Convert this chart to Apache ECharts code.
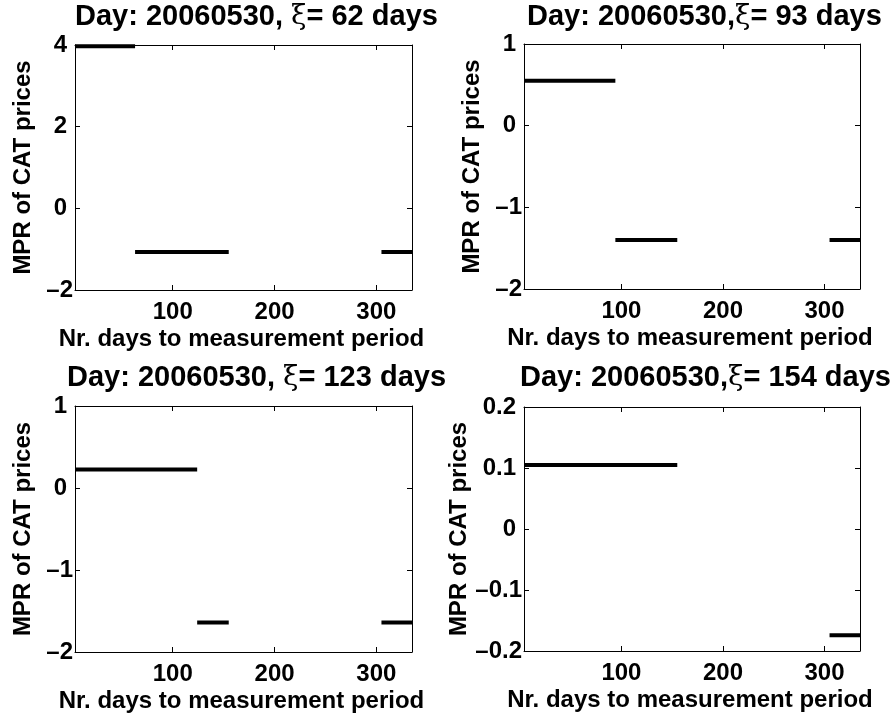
<!DOCTYPE html>
<html>
<head>
<meta charset="utf-8">
<script src="https://cdn.jsdelivr.net/npm/echarts@6/dist/echarts.min.js"></script>
<style>
  html, body { margin: 0; padding: 0; background: #fff; overflow: hidden; }
  #main { width: 895px; height: 722px; }
</style>
</head>
<body>
<div id="main"></div>
<script>
// 每个测量期（按月）的起止天数
const dayStart = [4, 33, 63, 94, 124, 305];
const dayEnd = [33, 63, 94, 124, 155, 335];
const xTicks = [100, 200, 300];

// 四个子图的 MPR 值（每段一个值）
const xiDays = [62, 93, 123, 154];
const mpr62 = [3.97, 3.97, -1.07, -1.07, -1.07, -1.07];
const mpr93 = [0.55, 0.55, 0.55, -1.40, -1.40, -1.40];
const mpr123 = [0.225, 0.225, 0.225, 0.225, -1.64, -1.64];
const mpr154 = [0.105, 0.105, 0.105, 0.105, 0.105, -0.174];

// y 轴范围
const yMin = [-2, -2, -2, -0.2];
const yMax = [4, 1, 1, 0.2];
const yStep = [2, 1, 1, 0.1];

const xName = 'Nr. days to measurement period';
const yName = 'MPR of CAT prices';
const font = 'Liberation Sans, Arial, Helvetica, sans-serif';

// 子图位置
const boxes = [
  { left: 75, top: 45, width: 337, height: 245 },
  { left: 524, top: 44, width: 336, height: 245 },
  { left: 75, top: 406, width: 337, height: 246 },
  { left: 524, top: 407, width: 336, height: 244 }
];
const titlePos = [
  { left: 75, top: 2, gap: ' ' },
  { left: 527, top: 2, gap: '' },
  { left: 67, top: 363, gap: ' ' },
  { left: 520, top: 363, gap: '' }
];

// 分段数据 -> 折线点（中间用 null 断开）
function steps(vals) {
  const out = [];
  vals.forEach((v, i) => {
    out.push([dayStart[i], v], [dayEnd[i], v], [dayEnd[i], null]);
  });
  return out;
}
const allVals = [mpr62, mpr93, mpr123, mpr154];

function yLabel(v) {
  const s = String(Math.round(v * 1000) / 1000);
  return v < 0 ? '{n|\u2013' + s.slice(1) + '}' : '{p|' + s + '}';
}
const labelRich = {
  p: { fontFamily: font, fontWeight: 'bold', fontSize: 24, color: '#000', padding: [0, 6, 0, 0] },
  n: { fontFamily: font, fontWeight: 'bold', fontSize: 24, color: '#000' }
};
const lineStyle = { color: '#000', width: 1 };

const option = {
  backgroundColor: '#fff',
  animation: false,
  title: [],
  graphic: [],
  grid: [],
  xAxis: [],
  yAxis: [],
  series: []
};

boxes.forEach((b, i) => {
  option.grid.push(Object.assign({ containLabel: false, outerBoundsMode: 'none' }, b));
  option.title.push({
    left: titlePos[i].left,
    top: titlePos[i].top,
    padding: 0,
    text: '{b|Day: 20060530,' + titlePos[i].gap + '}{g|\u03be}{b|= ' + xiDays[i] + ' days}',
    textStyle: {
      rich: {
        b: { fontFamily: font, fontWeight: 'bold', fontSize: 29, color: '#000' },
        g: { fontFamily: 'DejaVu Serif, serif', fontWeight: 'normal', fontSize: 28, color: '#000' }
      }
    }
  });
  // x 轴名称（graphic 文本）
  option.graphic.push({
    type: 'text',
    z: 100,
    x: b.left + b.width / 2 - 2,
    y: b.top + b.height + 37,
    style: {
      text: xName,
      fill: '#000',
      font: 'bold 24px Liberation Sans',
      textAlign: 'center',
      textVerticalAlign: 'top'
    }
  });
  // 下方 x 轴
  option.xAxis.push({
    type: 'value', gridIndex: i, min: 4, max: 335,
    axisLine: { show: true, onZero: false, lineStyle: lineStyle },
    axisTick: { show: true, inside: true, length: 5, customValues: xTicks, lineStyle: lineStyle },
    axisLabel: { show: true, margin: 10, customValues: xTicks, fontFamily: font, fontWeight: 'bold', fontSize: 24, color: '#000' },
    splitLine: { show: false }
  });
  // 上方镜像 x 轴
  option.xAxis.push({
    type: 'value', gridIndex: i, min: 4, max: 335, position: 'top',
    axisLine: { show: true, onZero: false, lineStyle: lineStyle },
    axisTick: { show: true, inside: true, length: 5, customValues: xTicks, lineStyle: lineStyle },
    axisLabel: { show: false },
    splitLine: { show: false }
  });
  // 左侧 y 轴
  option.yAxis.push({
    type: 'value', gridIndex: i, min: yMin[i], max: yMax[i], interval: yStep[i],
    name: yName,
    nameLocation: 'middle', nameGap: 40, nameRotate: 90,
    nameTruncate: { maxWidth: 2000 },
    nameTextStyle: { fontFamily: font, fontWeight: 'bold', fontSize: 24, color: '#000' },
    axisLine: { show: true, onZero: false, lineStyle: lineStyle },
    axisTick: { show: true, inside: true, length: 5, lineStyle: lineStyle },
    axisLabel: { show: true, margin: 2, formatter: yLabel, rich: labelRich },
    splitLine: { show: false }
  });
  // 右侧镜像 y 轴
  option.yAxis.push({
    type: 'value', gridIndex: i, min: yMin[i], max: yMax[i], interval: yStep[i], position: 'right',
    axisLine: { show: true, onZero: false, lineStyle: lineStyle },
    axisTick: { show: true, inside: true, length: 5, lineStyle: lineStyle },
    axisLabel: { show: false },
    splitLine: { show: false }
  });
  option.series.push({
    type: 'line',
    xAxisIndex: i * 2,
    yAxisIndex: i * 2,
    data: steps(allVals[i]),
    showSymbol: false,
    symbol: 'none',
    connectNulls: false,
    lineStyle: { color: '#000', width: 4, cap: 'butt' }
  });
});

const myChart = echarts.init(document.getElementById('main'));
myChart.setOption(option);
</script>
</body>
</html>
